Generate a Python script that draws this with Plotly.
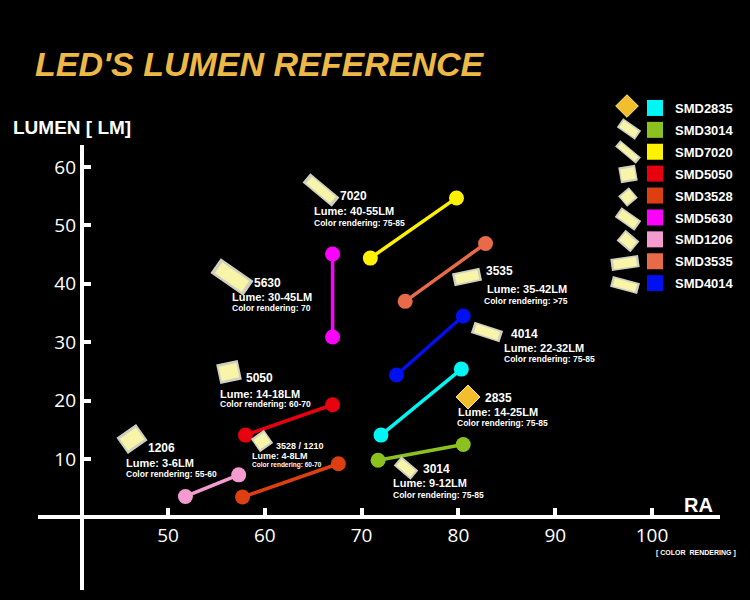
import math
import plotly.graph_objects as go

# ---------------- data ----------------
series = ["SMD2835", "SMD3014", "SMD7020", "SMD5050", "SMD3528",
          "SMD5630", "SMD1206", "SMD3535", "SMD4014"]
colors = ["#00F5F5", "#8CC21F", "#FFF200", "#E8000F", "#DD3F10",
          "#FF00FF", "#F59BD0", "#E86A48", "#0010F0"]
ra_start = [72.0, 71.7, 70.9, 58.0, 57.7, 67.0, 51.8, 74.5, 73.6]
ra_end = [80.3, 80.5, 79.8, 67.0, 67.6, 67.0, 57.3, 82.8, 80.5]
lm_start = [14.1, 9.8, 44.4, 14.1, 3.5, 30.9, 3.6, 37.0, 24.4]
lm_end = [25.4, 12.5, 54.7, 19.3, 9.2, 45.1, 7.3, 46.9, 34.5]

x_ticks = [50, 60, 70, 80, 90, 100]
y_ticks = [10, 20, 30, 40, 50, 60]

# label texts: (code, lume, color rendering)
labels = [
    ("7020", "Lume: 40-55LM", "Color rendering: 75-85"),
    ("5630", "Lume: 30-45LM", "Color rendering: 70"),
    ("3535", "Lume: 35-42LM", "Color rendering: >75"),
    ("4014", "Lume: 22-32LM", "Color rendering: 75-85"),
    ("2835", "Lume: 14-25LM", "Color rendering: 75-85"),
    ("3014", "Lume: 9-12LM", "Color rendering: 75-85"),
    ("5050", "Lume: 14-18LM", "Color rendering: 60-70"),
    ("3528 / 1210", "Lume: 4-8LM", "Color rendering: 60-70"),
    ("1206", "Lume: 3-6LM", "Color rendering: 55-60"),
]

# ---------------- layout geometry ----------------
W, H = 750, 600
ML, MR, MT, MB = 38, 30, 145, 10
PW = W - ML - MR
PH = H - MT - MB
X_RANGE = [36.57, 107.02]
Y_RANGE = [-12.41, 63.76]


def pxp(px):
    return (px - ML) / PW


def pyp(py):
    return (H - MB - py) / PH


fig = go.Figure()

for i, name in enumerate(series):
    fig.add_trace(go.Scatter(
        x=[ra_start[i], ra_end[i]], y=[lm_start[i], lm_end[i]],
        mode="lines+markers", line=dict(color=colors[i], width=3.5),
        marker=dict(color=colors[i], size=15), showlegend=False,
        hoverinfo="skip"))

for i, name in enumerate(series):
    fig.add_trace(go.Scatter(
        x=[None], y=[None], mode="markers", name=name,
        legendgroup=name,
        marker=dict(color=colors[i], size=16, symbol="square"),
        showlegend=True))

# ---------------- LED icons ----------------
def rect_path(L, Wd, ang):
    a = math.radians(ang)
    c, s = math.cos(a), math.sin(a)
    pts = [(-L / 2, -Wd / 2), (L / 2, -Wd / 2), (L / 2, Wd / 2), (-L / 2, Wd / 2)]
    rp = [(x * c - y * s, x * s + y * c) for x, y in pts]
    return "M " + " L ".join(f"{x:.2f},{y:.2f}" for x, y in rp) + " Z"


shapes = []


def icon(cx, cy, L, Wd, ang, kind="pkg"):
    base = dict(type="path", xref="paper", yref="paper",
                xsizemode="pixel", ysizemode="pixel",
                xanchor=pxp(cx), yanchor=pyp(cy), layer="above")
    if kind == "diamond":
        shapes.append(dict(base, path=rect_path(L, Wd, ang),
                           fillcolor="#F2BE2C", line=dict(color="#FFE7A0", width=1)))
        return
    shapes.append(dict(base, path=rect_path(L, Wd, ang),
                       fillcolor="#CFCFC2", line=dict(width=0)))
    shapes.append(dict(base, path=rect_path(L * 0.82, Wd * 0.72, ang),
                       fillcolor="#F8F4A8", line=dict(width=0)))


# icons next to labels
icon(321, 190, 38, 12, -40)
icon(232, 277, 40, 18, -35)
icon(467, 277, 28, 13, 12)
icon(487, 332, 30, 12, -18)
icon(468, 397, 17, 17, 45, "diamond")
icon(406, 468, 22, 12, -40)
icon(229, 372, 22, 20, 12)
icon(262, 441, 16, 16, 35)
icon(132, 439, 24, 20, 35)

# icons in legend
icon(627, 106, 16, 16, 45, "diamond")
icon(629, 129, 22, 11, -35)
icon(628, 152, 27, 8, -40)
icon(628, 174, 17, 16, 10)
icon(628, 197, 14, 14, 40)
icon(628, 219, 24, 12, -35)
icon(628, 241, 18, 14, -40)
icon(625, 263, 28, 12, 8)
icon(625, 285, 28, 11, -15)

# ---------------- annotations ----------------
ann = []


def text(px, py, s, size, bold=True, anchor="left", color="white",
         family="Liberation Sans", italic=False):
    t = f"<b>{s}</b>" if bold else s
    if italic:
        t = f"<i>{t}</i>"
    ann.append(dict(x=pxp(px), y=pyp(py), xref="paper", yref="paper",
                    text=t, showarrow=False, xanchor=anchor, yanchor="middle",
                    font=dict(size=size, color=color, family=family)))


# label positions in pixels: (code x,y), (lume x,y), (cr x,y), sizes
label_pos = [
    ((338, 196), (312, 211), (312, 223), 11, 11, 8.5),
    ((252, 283), (230, 297), (230, 308), 11, 11, 8.5),
    ((484, 271), (485, 289), (482, 301), 11, 11, 8.5),
    ((509, 334), (502, 348), (502, 359), 11, 11, 8.5),
    ((483, 398), (456, 412), (455, 423), 11, 11, 8.5),
    ((421, 469), (391, 483), (391, 495), 11, 11, 8.5),
    ((244, 378), (218, 394), (218, 404), 11, 11, 8.5),
    ((274, 446), (250, 456), (250, 465), 8, 9, 6.5),
    ((146, 448), (124, 463), (124, 474), 11, 11, 8.5),
]
for (code, lume, cr), (p1, p2, p3, s1, s2, s3) in zip(labels, label_pos):
    text(p1[0], p1[1], code, s1 + 1)
    text(p2[0], p2[1], lume, s2)
    text(p3[0], p3[1], cr, s3)

text(33, 64, "LED'S LUMEN REFERENCE", 34, color="#EDB845", italic=True)
text(11, 128, "LUMEN [ LM]", 19)
text(682, 505, "RA", 20)
text(654, 553, "[ COLOR  RENDERING ]", 7)

fig.update_layout(
    width=W, height=H,
    margin=dict(l=ML, r=MR, t=MT, b=MB, pad=0),
    paper_bgcolor="black", plot_bgcolor="black",
    font=dict(family="Liberation Sans", color="white"),
    xaxis=dict(range=X_RANGE, anchor="free",
               position=(0 - Y_RANGE[0]) / (Y_RANGE[1] - Y_RANGE[0]),
               showline=True, linecolor="white", linewidth=4,
               showgrid=False, zeroline=False,
               tickvals=x_ticks, ticks="inside", ticklen=7, tickwidth=4,
               tickcolor="white",
               tickfont=dict(size=19, color="white", family="Open Sans")),
    yaxis=dict(range=Y_RANGE, anchor="free",
               position=(41.1 - X_RANGE[0]) / (X_RANGE[1] - X_RANGE[0]),
               showline=True, linecolor="white", linewidth=4,
               showgrid=False, zeroline=False,
               tickvals=y_ticks, ticks="inside", ticklen=7, tickwidth=4,
               tickcolor="white",
               tickfont=dict(size=19, color="white", family="Open Sans")),
    legend=dict(x=pxp(635), y=pyp(93), xanchor="left", yanchor="top",
                bgcolor="rgba(0,0,0,0)", tracegroupgap=2,
                font=dict(size=13, color="white", family="Liberation Sans",
                          weight="bold"),
                itemsizing="trace"),
    shapes=shapes,
    annotations=ann,
)

fig.write_html("out.html",
               config={"displayModeBar": False},
               post_script="document.body.style.margin='0';"
                           "document.body.style.background='black';")
